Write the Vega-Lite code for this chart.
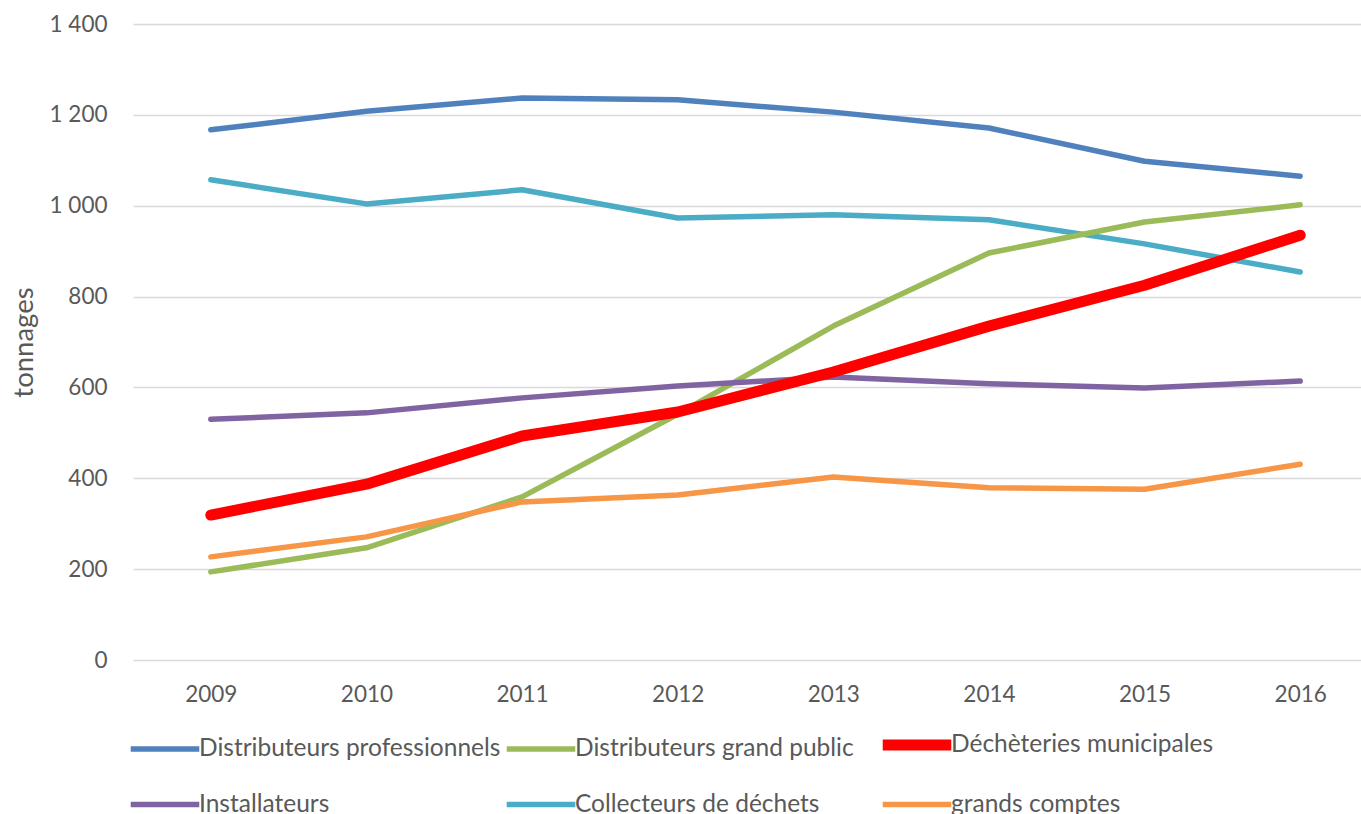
{
  "$schema": "https://vega.github.io/schema/vega-lite/v6.json",
  "autosize": "none",
  "width": 1245,
  "height": 636,
  "padding": {"left": 133, "top": 24, "right": 0, "bottom": 154},
  "background": "white",
  "config": {
    "font": "Lato",
    "view": {"stroke": null},
    "axis": {"labelFont": "Lato", "labelFontSize": 22.5, "labelColor": "#595959", "titleFont": "Lato", "titleFontSize": 27.5, "titleColor": "#595959", "titleFontWeight": "normal"},
    "legend": {"labelFont": "Lato", "labelFontSize": 24.5, "labelColor": "#595959"}
  },
  "data": {
    "values": [
      {"year": "2009", "series": "Distributeurs professionnels", "value": 1167},
      {"year": "2010", "series": "Distributeurs professionnels", "value": 1208},
      {"year": "2011", "series": "Distributeurs professionnels", "value": 1237},
      {"year": "2012", "series": "Distributeurs professionnels", "value": 1233},
      {"year": "2013", "series": "Distributeurs professionnels", "value": 1206},
      {"year": "2014", "series": "Distributeurs professionnels", "value": 1171},
      {"year": "2015", "series": "Distributeurs professionnels", "value": 1098},
      {"year": "2016", "series": "Distributeurs professionnels", "value": 1065},
      {"year": "2009", "series": "Collecteurs de déchets", "value": 1057},
      {"year": "2010", "series": "Collecteurs de déchets", "value": 1004},
      {"year": "2011", "series": "Collecteurs de déchets", "value": 1035},
      {"year": "2012", "series": "Collecteurs de déchets", "value": 973},
      {"year": "2013", "series": "Collecteurs de déchets", "value": 980},
      {"year": "2014", "series": "Collecteurs de déchets", "value": 969},
      {"year": "2015", "series": "Collecteurs de déchets", "value": 916},
      {"year": "2016", "series": "Collecteurs de déchets", "value": 854},
      {"year": "2009", "series": "Distributeurs grand public", "value": 194},
      {"year": "2010", "series": "Distributeurs grand public", "value": 247},
      {"year": "2011", "series": "Distributeurs grand public", "value": 359},
      {"year": "2012", "series": "Distributeurs grand public", "value": 541},
      {"year": "2013", "series": "Distributeurs grand public", "value": 735},
      {"year": "2014", "series": "Distributeurs grand public", "value": 896},
      {"year": "2015", "series": "Distributeurs grand public", "value": 964},
      {"year": "2016", "series": "Distributeurs grand public", "value": 1002},
      {"year": "2009", "series": "Installateurs", "value": 530},
      {"year": "2010", "series": "Installateurs", "value": 544},
      {"year": "2011", "series": "Installateurs", "value": 577},
      {"year": "2012", "series": "Installateurs", "value": 603},
      {"year": "2013", "series": "Installateurs", "value": 623},
      {"year": "2014", "series": "Installateurs", "value": 608},
      {"year": "2015", "series": "Installateurs", "value": 599},
      {"year": "2016", "series": "Installateurs", "value": 614},
      {"year": "2009", "series": "grands comptes", "value": 227},
      {"year": "2010", "series": "grands comptes", "value": 271},
      {"year": "2011", "series": "grands comptes", "value": 348},
      {"year": "2012", "series": "grands comptes", "value": 363},
      {"year": "2013", "series": "grands comptes", "value": 403},
      {"year": "2014", "series": "grands comptes", "value": 379},
      {"year": "2015", "series": "grands comptes", "value": 376},
      {"year": "2016", "series": "grands comptes", "value": 431},
      {"year": "2009", "series": "Déchèteries municipales", "value": 319},
      {"year": "2010", "series": "Déchèteries municipales", "value": 387},
      {"year": "2011", "series": "Déchèteries municipales", "value": 493},
      {"year": "2012", "series": "Déchèteries municipales", "value": 546},
      {"year": "2013", "series": "Déchèteries municipales", "value": 634},
      {"year": "2014", "series": "Déchèteries municipales", "value": 735},
      {"year": "2015", "series": "Déchèteries municipales", "value": 825},
      {"year": "2016", "series": "Déchèteries municipales", "value": 935}
    ]
  },
  "mark": {"type": "line", "strokeCap": "round", "strokeJoin": "round"},
  "encoding": {
    "x": {
      "field": "year", "type": "ordinal",
      "scale": {"type": "point", "padding": 0.5},
      "axis": {"title": null, "labelAngle": 0, "ticks": false, "domain": false, "grid": false, "labelPadding": 23}
    },
    "y": {
      "field": "value", "type": "quantitative",
      "scale": {"domain": [0, 1400], "nice": false},
      "axis": {
        "title": "tonnages", "values": [0, 200, 400, 600, 800, 1000, 1200, 1400],
        "format": ",d", "labelExpr": "replace(datum.label, ',', ' ')",
        "ticks": false, "domain": false, "gridColor": "#d9d9d9", "gridWidth": 1.5,
        "labelPadding": 26, "titleX": -109, "titleY": 318, "titleAngle": -90, "titleAlign": "center", "titleBaseline": "middle"
      }
    },
    "color": {
      "field": "series", "type": "ordinal",
      "scale": {
        "domain": ["Distributeurs professionnels", "Distributeurs grand public", "Déchèteries municipales", "Installateurs", "Collecteurs de déchets", "grands comptes"],
        "range": ["#4F81BD", "#9BBB59", "#FF0000", "#8064A2", "#4BACC6", "#F79646"]
      },
      "legend": {
        "title": null, "orient": "none", "legendX": -8, "legendY": 681, "direction": "horizontal", "columns": 3,
        "symbolType": "stroke", "symbolSize": 4700, "labelOffset": -6, "columnPadding": -23, "rowPadding": -28,
        "gridAlign": "all", "padding": 0, "labelLimit": 400
      }
    },
    "strokeWidth": {
      "field": "series", "type": "ordinal",
      "scale": {
        "type": "ordinal",
        "domain": ["Distributeurs professionnels", "Distributeurs grand public", "Déchèteries municipales", "Installateurs", "Collecteurs de déchets", "grands comptes"],
        "range": [5.5, 5.5, 11, 5.5, 5.5, 5.5]
      }
    }
  }
}
